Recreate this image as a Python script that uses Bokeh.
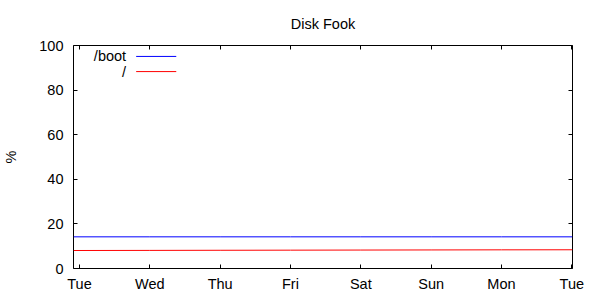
from bokeh.plotting import figure
from bokeh.models import FixedTicker, LinearAxis, Range1d
from bokeh.embed import file_html
from bokeh.resources import INLINE
from bokeh.core.properties import value

# ---- data ----
day_ticks = [0, 1, 2, 3, 4, 5, 6, 7]
day_labels = ["Tue", "Wed", "Thu", "Fri", "Sat", "Sun", "Mon", "Tue"]
y_ticks = [0, 20, 40, 60, 80, 100]

days = [-0.085, 1, 2, 3, 4, 5, 6, 7.01]
boot_pct = [14.2, 14.2, 14.2, 14.2, 14.2, 14.2, 14.2, 14.2]
root_pct = [8.07, 8.12, 8.17, 8.22, 8.27, 8.32, 8.37, 8.40]

series_names = ["/boot", "/"]
series_colors = ["#0000ff", "#ff0000"]

FONT = "Liberation Sans"
FS = "14.5px"

p = figure(width=600, height=300, output_backend="svg", toolbar_location=None,
           x_range=Range1d(-0.085, 7.01), y_range=Range1d(0, 100),
           min_border_left=73, min_border_right=28, min_border_top=45,
           min_border_bottom=32, x_axis_type=None, y_axis_type=None)

p.background_fill_color = "white"
p.border_fill_color = "white"
p.outline_line_color = "black"
p.outline_line_width = 1
p.grid.visible = False

p.title.text = "Disk Fook"
p.title.align = "center"
p.title.offset = -2
p.title.text_font = FONT
p.title.text_font_size = FS
p.title.text_font_style = "normal"
p.title.text_color = "black"
p.title.standoff = 27

def style_axis(ax, labels=True):
    ax.axis_line_color = None
    ax.major_tick_in = 4
    ax.major_tick_out = 0
    ax.major_tick_line_color = "black"
    ax.minor_tick_line_color = None
    ax.major_label_text_font = FONT
    ax.major_label_text_font_size = FS
    ax.major_label_text_color = "black"
    ax.axis_label_text_font = FONT
    ax.axis_label_text_font_size = FS
    ax.axis_label_text_font_style = "normal"
    ax.axis_label_text_color = "black"

xb = LinearAxis(ticker=FixedTicker(ticks=day_ticks),
                major_label_overrides={t: l for t, l in zip(day_ticks, day_labels)})
style_axis(xb)
xb.major_label_standoff = 7
p.add_layout(xb, "below")

xt = LinearAxis(ticker=FixedTicker(ticks=day_ticks),
                major_label_overrides={t: "" for t in day_ticks})
style_axis(xt, labels=False)
xt.major_label_standoff = 0
p.add_layout(xt, "above")

yl = LinearAxis(ticker=FixedTicker(ticks=y_ticks), axis_label="%")
style_axis(yl)
yl.major_label_standoff = 10
yl.axis_label_standoff = 17
p.add_layout(yl, "left")

yr = LinearAxis(ticker=FixedTicker(ticks=y_ticks),
                major_label_overrides={t: "" for t in y_ticks})
style_axis(yr, labels=False)
yr.major_label_standoff = 0
p.add_layout(yr, "right")

p.line(days, boot_pct, line_color=series_colors[0], line_width=1)
p.line(days, root_pct, line_color=series_colors[1], line_width=1)

# gnuplot-style key: label right-aligned, sample line to its right
key_text_x = 0.663
key_x0, key_x1 = 0.806, 1.376
key_y = [95.1, 88.3]
p.text(x=[key_text_x] * 2, y=key_y, text=series_names,
       text_align="right", text_baseline="middle",
       text_font=value(FONT), text_font_size=FS, text_color="black")
p.segment(x0=[key_x0] * 2, y0=key_y, x1=[key_x1] * 2, y1=key_y,
          line_color=series_colors, line_width=1)

open("out.html", "w").write(file_html(p, INLINE))
